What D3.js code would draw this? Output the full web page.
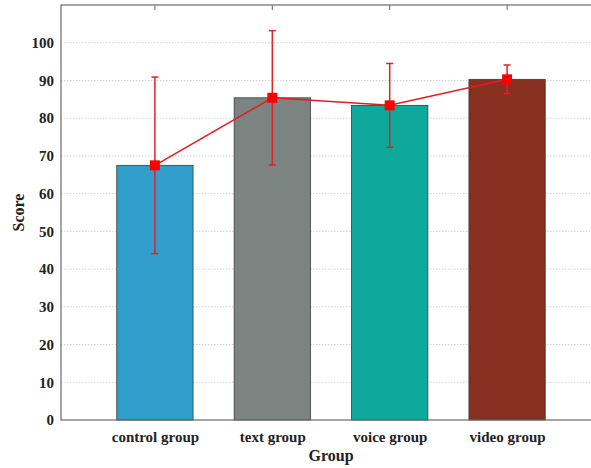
<!DOCTYPE html>
<html>
<head>
<meta charset="utf-8">
<script src="https://cdn.jsdelivr.net/npm/d3@7"></script>
<style>
  html, body { margin: 0; padding: 0; background: #fff; }
  svg { display: block; }
  text { font-family: "Liberation Serif", "Times New Roman", serif; font-weight: bold; fill: #222; }
</style>
</head>
<body>
<svg id="chart" width="591" height="468"></svg>
<script>
// Groups and their scores (mean with standard deviation)
const groups = ["control group", "text group", "voice group", "video group"];
const means = [67.5, 85.4, 83.4, 90.3];
const sds = [23.4, 17.8, 11.1, 3.8];
const barColors = ["#319fcc", "#7b8480", "#0ea99c", "#873020"];
const yTicks = [0, 10, 20, 30, 40, 50, 60, 70, 80, 90, 100];

const svg = d3.select("#chart");
const plotL = 61, plotR = 601, plotT = 5, plotB = 420;

// Category axis runs from 0.2 to 4.8 with groups at 1..4
const x = d3.scaleLinear().domain([0.2, 4.8]).range([plotL, plotR]);
const y = d3.scaleLinear().domain([0, 110]).range([plotB, plotT]);
const barW = x(1.325) - x(1);

// Horizontal dotted grid
svg.append("g").selectAll("line").data(yTicks.filter(d => d > 0)).join("line")
  .attr("x1", plotL).attr("x2", plotR)
  .attr("y1", d => y(d)).attr("y2", d => y(d))
  .attr("stroke", "#d4d4d4").attr("stroke-width", 1)
  .attr("stroke-dasharray", "1.5,1.5");

// Bars
svg.append("g").selectAll("rect").data(groups).join("rect")
  .attr("x", (d, i) => x(i + 1) - barW)
  .attr("width", barW * 2)
  .attr("y", (d, i) => y(means[i]))
  .attr("height", (d, i) => y(0) - y(means[i]))
  .attr("fill", (d, i) => barColors[i])
  .attr("stroke", "#3a3a3a").attr("stroke-width", 0.8);

// Frame
svg.append("rect").attr("x", plotL).attr("y", plotT)
  .attr("width", plotR - plotL).attr("height", plotB - plotT)
  .attr("fill", "none").attr("stroke", "#6b6b6b").attr("stroke-width", 1.2);

// Y axis
const yAxis = d3.axisLeft(y).tickValues(yTicks).tickSize(0).tickPadding(7);
const gy = svg.append("g").attr("transform", `translate(${plotL},0)`).call(yAxis);
gy.select(".domain").remove();
gy.selectAll("text").style("font-size", "15px").attr("fill", "#222");

// Inward ticks on the top edge at group positions
svg.append("g").selectAll("line").data(groups).join("line")
  .attr("x1", (d, i) => x(i + 1)).attr("x2", (d, i) => x(i + 1))
  .attr("y1", plotT).attr("y2", plotT + 5)
  .attr("stroke", "#6b6b6b").attr("stroke-width", 1);

// X axis labels
const xAxis = d3.axisBottom(x).tickValues([1, 2, 3, 4])
  .tickFormat((d) => groups[d - 1]).tickSize(0).tickPadding(11);
const gx = svg.append("g").attr("transform", `translate(0,${plotB})`).call(xAxis);
gx.select(".domain").remove();
gx.selectAll("text").style("font-size", "15px").attr("fill", "#222");

// Axis titles
svg.append("text").attr("x", (plotL + plotR) / 2).attr("y", 461)
  .attr("text-anchor", "middle").style("font-size", "16px").text("Group");
svg.append("text").attr("transform", `translate(24,${(plotT + plotB) / 2}) rotate(-90)`)
  .attr("text-anchor", "middle").style("font-size", "16px").text("Score");

// Error bars
const eb = svg.append("g").attr("stroke", "#e0202a").attr("stroke-width", 1.5);
groups.forEach((g, i) => {
  const cx = x(i + 1);
  eb.append("line").attr("x1", cx).attr("x2", cx)
    .attr("y1", y(means[i] - sds[i])).attr("y2", y(means[i] + sds[i]));
  [means[i] - sds[i], means[i] + sds[i]].forEach(v => {
    eb.append("line").attr("x1", cx - 3.5).attr("x2", cx + 3.5)
      .attr("y1", y(v)).attr("y2", y(v));
  });
});

// Line through the means
svg.append("path").datum(means)
  .attr("d", d3.line().x((d, i) => x(i + 1)).y(d => y(d)))
  .attr("fill", "none").attr("stroke", "#e41b23").attr("stroke-width", 1.5);

// Square markers
svg.append("g").selectAll("rect").data(means).join("rect")
  .attr("x", (d, i) => x(i + 1) - 5).attr("y", d => y(d) - 5)
  .attr("width", 10).attr("height", 10)
  .attr("fill", "#ff0000");
</script>
</body>
</html>
